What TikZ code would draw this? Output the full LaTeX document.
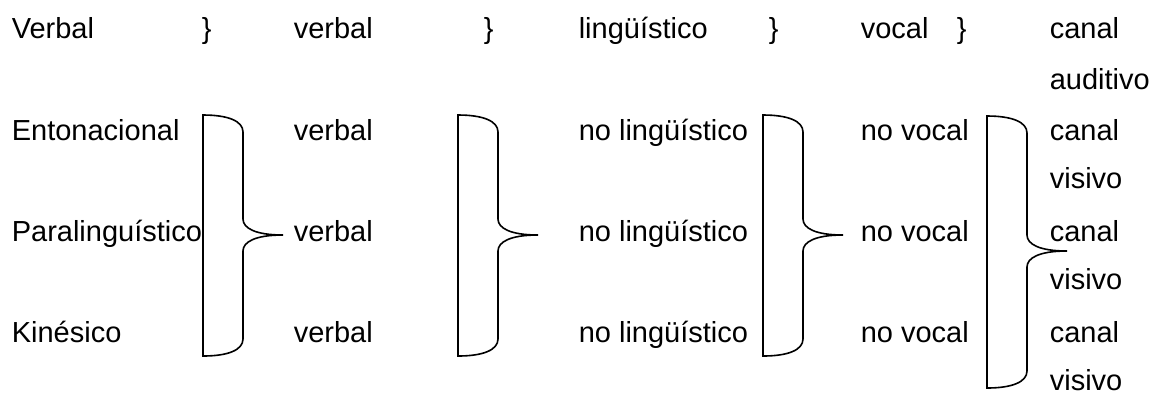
\documentclass[tikz,border=0pt]{standalone}
\usepackage{fontspec}
\setmainfont{Liberation Sans}

\begin{document}
\begin{tikzpicture}[x=0.5pt, y=-0.5pt, line width=0.8pt,
        txt/.style={anchor=base west, inner sep=0pt, font=\fontsize{14.5}{17}\selectfont}]
        \useasboundingbox (0,0) rectangle (1151,393);
        % ==== ROW 1 ====
        \node[txt] (verb) at (11,38) {Verbal};
        \node[txt] (ka) at (201,38) {\}};
        \node[txt] (b1) at (293,38) {verbal};
        \node[txt] (kb) at (483,38) {\}};
        \node[txt] (c1) at (578,38) {lingüístico};
        \node[txt] (kc) at (768,38) {\}};
        \node[txt] (d1) at (860,38) {vocal};
        \node[txt] (kd) at (956,38) {\}};
        \node[txt] (e1) at (1049,38) {canal};
        \node[txt] (f1) at (1049,89) {auditivo};
        % ==== ROWS 2-4 ====
        \node[txt] (ento) at (11,140) {Entonacional};
        \node[txt] (para) at (11,241) {Paralinguístico};
        \node[txt] (kine) at (11,342) {Kinésico};
        \foreach \i/\y in {2/140, 3/241, 4/342} {
            \node[txt] (b\i) at (293,\y) {verbal};
            \node[txt] (c\i) at (578,\y) {no lingüístico};
            \node[txt] (d\i) at (860,\y) {no vocal};
            \node[txt] (e\i) at (1049,\y) {canal};
            \node[txt] (f\i) at (1049,\y+48) {visivo};
        }
        % ==== BRACES ====
        \foreach \l/\t/\b/\m in {203/115/356/235, 458/115/356/235, 763/115/356/235, 987/116/388/251} {
            \draw (\l,\t) .. controls (\l+25,\t) and (\l+40,\t+6) .. (\l+40,\t+17)
                -- (\l+40,\m-16) .. controls (\l+40,\m-7) and (\l+52,\m) .. (\l+80,\m)
                .. controls (\l+52,\m) and (\l+40,\m+7) .. (\l+40,\m+16)
                -- (\l+40,\b-17) .. controls (\l+40,\b-6) and (\l+25,\b) .. (\l,\b) -- cycle;
        }
\end{tikzpicture}
\end{document}
